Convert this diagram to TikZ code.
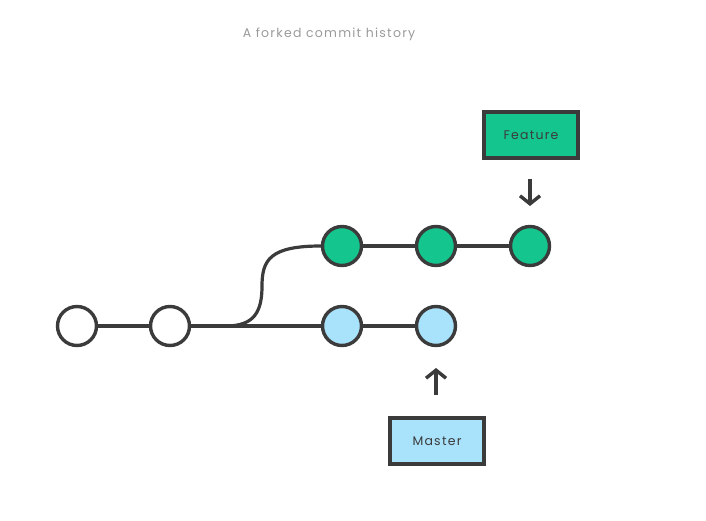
\documentclass[tikz,border=0pt]{standalone}
\usepackage{fontspec}
\setmainfont{Poppins}
\newfontfamily\spaced[LetterSpace=10]{Poppins}
\usetikzlibrary{arrows.meta,positioning}
\definecolor{ink}{HTML}{3B3B3B}
\definecolor{featgreen}{HTML}{14C68E}
\definecolor{mastblue}{HTML}{A9E2FB}
\definecolor{titlegray}{HTML}{9A9A9A}
\tikzset{
  commit/.style={
    shape = circle,
    draw = ink,
    line width = 3.4pt,
    minimum size = 39pt,
    inner sep = 0pt,
    fill = white
  },
  feat/.style={
    commit,
    fill = featgreen
  },
  mast/.style={
    commit,
    fill = mastblue
  },
  branch/.style={
    shape = rectangle,
    draw = ink,
    line width = 3.4pt,
    minimum width = 94pt,
    minimum height = 46pt,
    text = ink,
    font = \spaced\fontsize{12.5pt}{12.5pt}\selectfont
  },
  link/.style={
    draw = ink,
    line width = 3.2pt
  },
  pointer/.style={
    draw = ink,
    line width = 3.4pt,
    -{Straight Barb[length=8pt,width=20pt,line width=3.4pt]}
  }
}
\begin{document}
\begin{tikzpicture}[x=1pt,y=-1pt]
        \useasboundingbox (0,0) rectangle (706,521);

        \node[text=titlegray, font=\spaced\fontsize{12.5pt}{12.5pt}\selectfont] (title) at (329,34) {A forked commit history};

        \node[commit] (c1) at (77,326) {};
        \node[commit] (c2) at (170,326) {};
        \node[mast] (m1) at (342,326) {};
        \node[mast] (m2) at (436,326) {};

        \node[feat] (f1) at (342,246) {};
        \node[feat] (f2) at (436,246) {};
        \node[feat] (f3) at (530,246) {};

        \coordinate (fork) at (226,326);

        \draw[link] (c1) -- (c2);
        \draw[link] (c2) -- (m1);
        \draw[link] (m1) -- (m2);
        \draw[link] (fork) .. controls (254,326) and (262,312) .. (262,286)
                           .. controls (262,260) and (270,246) .. (f1.west);
        \draw[link] (f1) -- (f2);
        \draw[link] (f2) -- (f3);

        \node[branch, fill=featgreen] (feature) at (531,135) {Feature};
        \node[branch, fill=mastblue] (master) at (437,441) {Master};

        \coordinate (fa) at (530,179);
        \coordinate (fb) at (530,206);
        \coordinate (ma) at (436,395);
        \coordinate (mb) at (436,368);
        \draw[pointer] (fa) -- (fb);
        \draw[pointer] (ma) -- (mb);
\end{tikzpicture}
\end{document}
